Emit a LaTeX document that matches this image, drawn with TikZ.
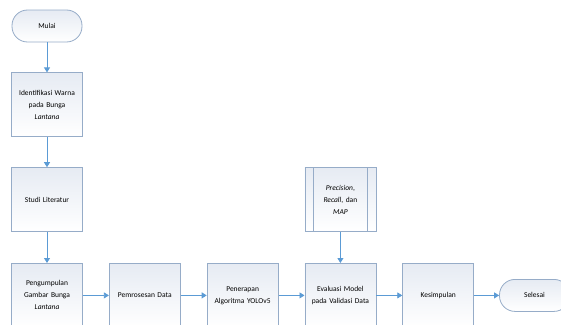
\documentclass[tikz,border=0pt]{standalone}
\usepackage{fontspec}
\setmainfont{Carlito}
\usetikzlibrary{arrows.meta,positioning}
\definecolor{boxline}{RGB}{150,172,200}
\definecolor{boxtop}{RGB}{230,235,243}
\definecolor{flowblue}{RGB}{91,155,213}
\tikzset{
  stepbox/.style={draw=boxline, line width=0.8pt, top color=boxtop, bottom color=white,
    minimum width=71pt, minimum height=64pt, text width=64pt, align=center,
    inner sep=1pt, font=\fontsize{7.5}{12}\selectfont},
  endbox/.style={stepbox, rounded corners=15.5pt, minimum height=32pt, minimum width=70pt},
  flow/.style={draw=flowblue, line width=0.8pt, -{Triangle[length=5pt,width=6pt]}}
}
\begin{document}
\begin{tikzpicture}[x=1pt,y=-1pt]
    \useasboundingbox (0,0) rectangle (561,324);
    \node[endbox] (mulai) at (47,26) {Mulai};
    \node[stepbox, below=30pt of mulai] (identifikasi) {Identifikasi Warna\\pada Bunga\\\textit{Lantana}};
    \node[stepbox, below=30pt of identifikasi] (studi) {Studi Literatur};
    \node[stepbox, below=31pt of studi] (kumpul) {Pengumpulan\\Gambar Bunga\\\textit{Lantana}};
    \node[stepbox, right=26pt of kumpul] (proses) {Pemrosesan Data};
    \node[stepbox, right=26pt of proses] (terap) {Penerapan\\Algoritma YOLOv5};
    \node[stepbox, right=26pt of terap] (evaluasi) {Evaluasi Model\\pada Validasi Data};
    \node[stepbox, right=26pt of evaluasi] (simpul) {Kesimpulan};
    \node[endbox, right=25pt of simpul] (selesai) {Selesai};
    \node[stepbox, above=31pt of evaluasi] (metrik) {\textit{Precision},\\\textit{Recall}, dan\\\textit{MAP}};
    \draw[boxline, line width=0.8pt] ([xshift=9pt]metrik.north west) -- ([xshift=9pt]metrik.south west);
    \draw[boxline, line width=0.8pt] ([xshift=-9pt]metrik.north east) -- ([xshift=-9pt]metrik.south east);

    \draw[flow] (mulai) -- (identifikasi);
    \draw[flow] (identifikasi) -- (studi);
    \draw[flow] (studi) -- (kumpul);
    \draw[flow] (kumpul) -- (proses);
    \draw[flow] (proses) -- (terap);
    \draw[flow] (terap) -- (evaluasi);
    \draw[flow] (evaluasi) -- (simpul);
    \draw[flow] (simpul) -- (selesai);
    \draw[flow] (metrik) -- (evaluasi);
\end{tikzpicture}
\end{document}
